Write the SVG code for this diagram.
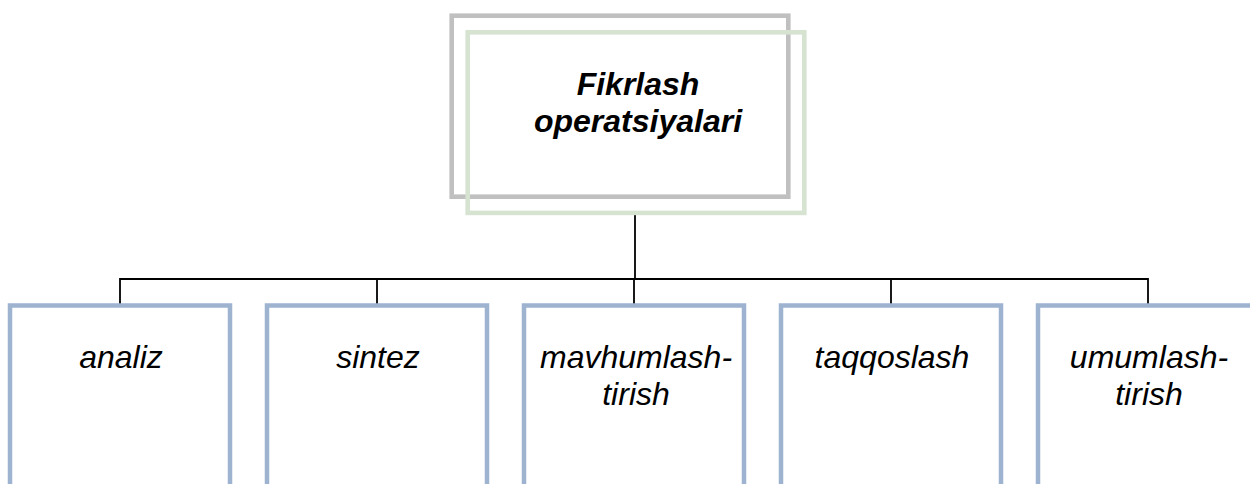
<svg xmlns="http://www.w3.org/2000/svg" width="1250" height="484" viewBox="0 0 1250 484">
<style>
.box{fill:#ffffff;stroke:#9db3d0;stroke-width:4.5}
.lbl{font-family:"Liberation Sans",Arial,sans-serif;font-style:italic;font-size:32px;fill:#000000;text-anchor:middle}
.title{font-weight:bold}
.conn{stroke:#000000;stroke-width:1.8;fill:none}
</style>
<rect width="1250" height="484" fill="#ffffff"/>
<g id="connectors">
<line class="conn" x1="635" y1="215" x2="635" y2="279"/>
<polyline class="conn" points="120,306 120,279 1148,279 1148,306"/>
<line class="conn" x1="377" y1="279" x2="377" y2="306"/>
<line class="conn" x1="634" y1="279" x2="634" y2="306"/>
<line class="conn" x1="891" y1="279" x2="891" y2="306"/>
</g>
<g id="root">
<rect x="451.7" y="15.7" width="336.6" height="181" fill="none" stroke="#c0c0c0" stroke-width="4.6"/>
<rect x="467.7" y="32.3" width="336.6" height="180.6" fill="none" stroke="#d6e3d1" stroke-width="4.6"/>
<text class="lbl title" x="638" y="95">Fikrlash</text>
<text class="lbl title" x="638" y="132">operatsiyalari</text>
</g>
<g id="n-analiz">
<rect class="box" x="10" y="305.5" width="220" height="200"/>
<text class="lbl" x="121" y="368">analiz</text>
</g>
<g id="n-sintez">
<rect class="box" x="267" y="305.5" width="220" height="200"/>
<text class="lbl" x="378" y="368">sintez</text>
</g>
<g id="n-mavhumlash">
<rect class="box" x="524" y="305.5" width="220" height="200"/>
<text class="lbl" x="636" y="368">mavhumlash-</text>
<text class="lbl" x="636" y="405">tirish</text>
</g>
<g id="n-taqqoslash">
<rect class="box" x="781" y="305.5" width="220" height="200"/>
<text class="lbl" x="892" y="368">taqqoslash</text>
</g>
<g id="n-umumlash">
<rect class="box" x="1038" y="305.5" width="220" height="200"/>
<text class="lbl" x="1149" y="368">umumlash-</text>
<text class="lbl" x="1149" y="405">tirish</text>
</g>
</svg>
